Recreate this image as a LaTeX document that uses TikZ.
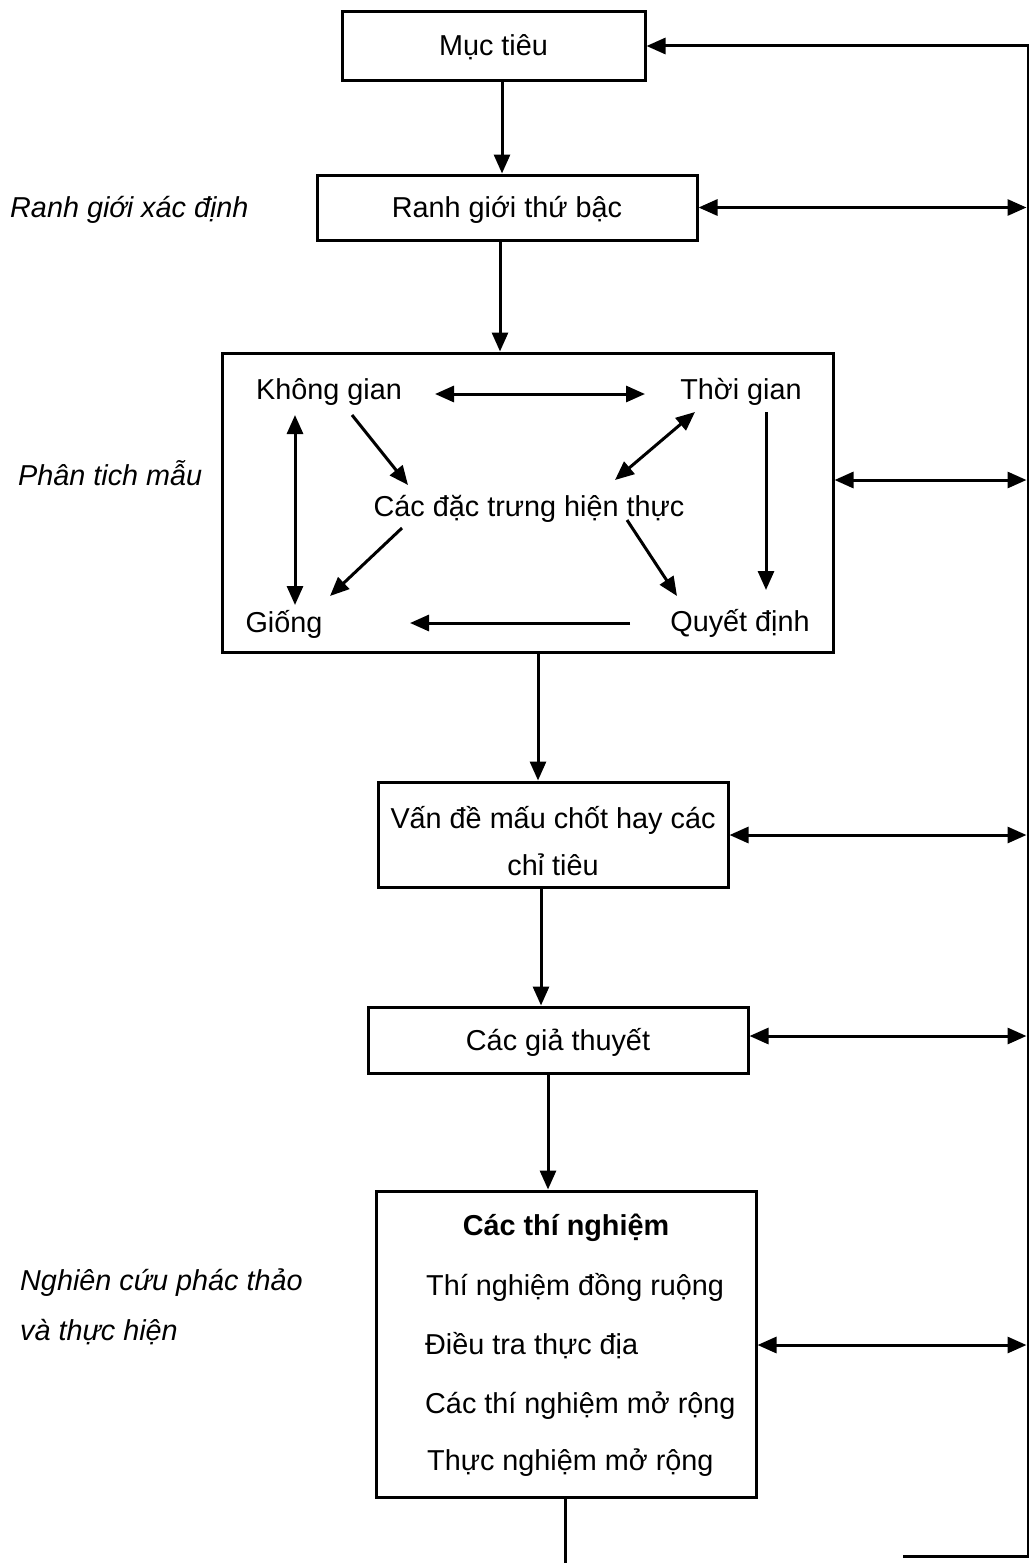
\documentclass[tikz,border=0pt]{standalone}
\usepackage{fontspec}
\setmainfont{Liberation Sans}
\usetikzlibrary{arrows.meta,calc}
\begin{document}
\begin{tikzpicture}[x=1pt,y=-1pt,
  every node/.style={font=\fontsize{28.8}{34}\selectfont, inner sep=0pt, text height=20pt, text depth=0pt},
  box/.style={draw, line width=3pt, rectangle},
  lbl/.style={font=\fontsize{28.8}{34}\selectfont\itshape, anchor=west},
  arr/.style={line width=3pt, -{Triangle[length=19pt,width=16pt]}},
  darr/.style={line width=3pt, {Triangle[length=19pt,width=16pt]}-{Triangle[length=19pt,width=16pt]}},
  ln/.style={line width=3pt}]
\useasboundingbox (0,0) rectangle (1028,1563);
\fill[white] (0,0) rectangle (1028,1563);

% main boxes
\node[box, minimum width=303pt, minimum height=68pt] (muc) at (493.5,46) {Mục tiêu};
\node[box, minimum width=380pt, minimum height=65pt] (ranh) at (507,207.5) {Ranh giới thứ bậc};
\node[box, minimum width=611pt, minimum height=299pt] (phan) at (527.5,502.5) {};
\node[box, minimum width=350pt, minimum height=105pt] (van) at (553,834.5) {};
\node (van1) at (553,818) {Vấn đề mấu chốt hay các};
\node (van2) at (553,865) {chỉ tiêu};
\node[box, minimum width=380pt, minimum height=66pt] (gia) at (558,1040) {Các giả thuyết};
\node[box, minimum width=380pt, minimum height=306pt] (thi) at (566,1344) {};
\node[font=\fontsize{28.8}{34}\selectfont\bfseries] (thi0) at (566,1225) {Các thí nghiệm};
\node[anchor=west] (thi1) at (426,1285) {Thí nghiệm đồng ruộng};
\node[anchor=west] (thi2) at (425,1344) {Điều tra thực địa};
\node[anchor=west] (thi3) at (425,1403) {Các thí nghiệm mở rộng};
\node[anchor=west] (thi4) at (427,1460) {Thực nghiệm mở rộng};

% left labels
\node[lbl] (l1) at (10,207) {Ranh giới xác định};
\node[lbl] (l2) at (18,475) {Phân tich mẫu};
\node[lbl] (l3) at (20,1280) {Nghiên cứu phác thảo};
\node[lbl] (l4) at (20,1330) {và thực hiện};

% inner nodes
\node (khong) at (329,389) {Không gian};
\node (thoi) at (741,389) {Thời gian};
\node (cacdac) at (529,506) {Các đặc trưng hiện thực};
\node (giong) at (284,622) {Giống};
\node (quyet) at (740,621) {Quyết định};

% inner arrows
\draw[darr] ([shift={(106,5)}]khong.center) -- ([shift={(-96,5)}]thoi.center);
\draw[arr] ([shift={(23,26)}]khong.center) -- ([shift={(-121,-21)}]cacdac.center);
\draw[darr] ([shift={(-46,23)}]thoi.center) -- ([shift={(86,-26)}]cacdac.center);
\draw[arr] ([shift={(25,23)}]thoi.center) -- ([shift={(26,-31)}]quyet.center);
\draw[arr] ([shift={(-127,22)}]cacdac.center) -- ([shift={(46,-26)}]giong.center);
\draw[arr] ([shift={(98,14)}]cacdac.center) -- ([shift={(-63,-25)}]quyet.center);
\draw[arr] ([shift={(-110,2)}]quyet.center) -- ([shift={(126,1)}]giong.center);
\draw[darr] ([shift={(-34,26)}]khong.center) -- ([shift={(11,-17)}]giong.center);

% vertical flow
\draw[arr] ([xshift=8.5pt]muc.south) -- ([xshift=-5pt]ranh.north);
\draw[arr] ([xshift=-7pt]ranh.south) -- ([xshift=-27.5pt]phan.north);
\draw[arr] ([xshift=10.5pt]phan.south) -- ([xshift=-15pt]van.north);
\draw[arr] ([xshift=-12pt]van.south) -- ([xshift=-17pt]gia.north);
\draw[arr] ([xshift=-10pt]gia.south) -- ([xshift=-18pt]thi.north);

% right side
\coordinate (r1) at (1026.5,207.5);
\coordinate (r2) at (1026.5,480);
\coordinate (r3) at (1026.5,835);
\coordinate (r4) at (1026.5,1036);
\coordinate (r5) at (1026.5,1345);
\draw[darr] (ranh.east) -- (r1);
\draw[darr] ([yshift=22.5pt]phan.east) -- (r2);
\draw[darr] ([yshift=-0.5pt]van.east) -- (r3);
\draw[darr] ([yshift=4pt]gia.east) -- (r4);
\draw[darr] ([yshift=-1pt]thi.east) -- (r5);

% feedback loop
\coordinate (b0) at (565,1566);
\coordinate (b1) at (903,1556);
\coordinate (b2) at (1028.8,1556);
\coordinate (b3) at (1028.8,46);
\draw[ln] ([xshift=-1pt]thi.south) -- (b0);
\draw[arr] (b1) -- (b2) -- (b3) -- (muc.east);
\end{tikzpicture}
\end{document}
